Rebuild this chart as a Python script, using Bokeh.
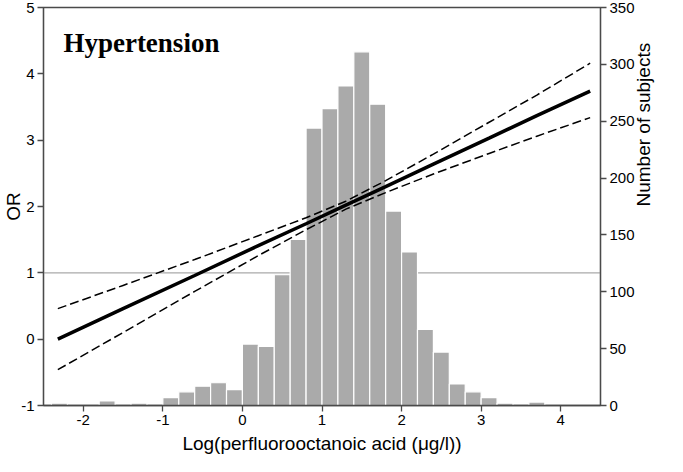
import math
from bokeh.plotting import figure
from bokeh.models import Range1d, LinearAxis, FixedTicker, Span, Label, ColumnDataSource
from bokeh.embed import file_html
from bokeh.resources import INLINE

# ---- data ----
bin_lo = [-2.4, -2.2, -2.0, -1.8, -1.6, -1.4, -1.2, -1.0, -0.8, -0.6, -0.4, -0.2,
          0.0, 0.2, 0.4, 0.6, 0.8, 1.0, 1.2, 1.4, 1.6, 1.8, 2.0, 2.2, 2.4, 2.6,
          2.8, 3.0, 3.2, 3.4, 3.6]
bin_hi = [-2.2, -2.0, -1.8, -1.6, -1.4, -1.2, -1.0, -0.8, -0.6, -0.4, -0.2, 0.0,
          0.2, 0.4, 0.6, 0.8, 1.0, 1.2, 1.4, 1.6, 1.8, 2.0, 2.2, 2.4, 2.6, 2.8,
          3.0, 3.2, 3.4, 3.6, 3.8]
counts = [2, 0, 0, 4, 0, 2, 0, 7, 12, 17, 20, 14, 54, 52, 115, 146, 244, 261,
          281, 311, 265, 171, 135, 67, 47, 19, 12, 7, 2, 0, 3]

x_fit = [-2.32, -1.5, -0.6, 0.2, 0.8, 1.3, 1.8, 2.4, 3.1, 3.7, 4.37]
or_est = [0.00, 0.46, 0.96, 1.41, 1.74, 2.02, 2.30, 2.64, 3.03, 3.37, 3.74]
or_hi = [0.46, 0.81, 1.20, 1.56, 1.83, 2.08, 2.39, 2.79, 3.27, 3.68, 4.16]
or_lo = [-0.46, 0.10, 0.72, 1.26, 1.65, 1.96, 2.21, 2.49, 2.80, 3.06, 3.34]

x_ticks = [-2, -1, 0, 1, 2, 3, 4]
or_ticks = [-1, 0, 1, 2, 3, 4, 5]
n_ticks = [0, 50, 100, 150, 200, 250, 300, 350]
ref_or = 1

title_text = "Hypertension"
x_label = "Log(perfluorooctanoic acid (\u03bcg/l))"
y_label = "OR"
y2_label = "Number of subjects"

# ---- figure ----
FONT = "Liberation Sans"
AX = "#4a4a4a"

p = figure(width=667, height=456, output_backend="svg", toolbar_location=None,
           x_range=Range1d(-2.5, 4.5), y_range=Range1d(-1, 5),
           min_border_top=7, min_border_right=2, min_border_left=0,
           min_border_bottom=0)
p.extra_y_ranges = {"n": Range1d(0, 350)}
p.grid.visible = False
p.outline_line_color = AX
p.outline_line_width = 1.3
p.background_fill_color = "white"
p.border_fill_color = "white"

keep = [i for i, c in enumerate(counts) if c > 0]
src = ColumnDataSource(dict(left=[bin_lo[i] for i in keep],
                            right=[bin_hi[i] for i in keep],
                            top=[counts[i] for i in keep],
                            bottom=[0] * len(keep)))
p.quad(left="left", right="right", top="top", bottom="bottom", source=src,
       y_range_name="n", fill_color="#aaaaaa", line_color="white", line_width=1.2)

p.add_layout(Span(location=ref_or, dimension="width", line_color="#aaaaaa",
                  line_width=1.4, level="underlay"))

p.line(x_fit, or_hi, line_color="black", line_width=1.5, line_dash="9 4")
p.line(x_fit, or_lo, line_color="black", line_width=1.5, line_dash="9 4")
p.line(x_fit, or_est, line_color="black", line_width=3.5)

p.add_layout(Label(x=-2.25, y=4.46, text=title_text, text_font="Liberation Serif",
                   text_font_style="bold", text_font_size="27px",
                   text_baseline="alphabetic", text_color="black"))


def style(ax, ticks, label, lab_standoff):
    ax.ticker = FixedTicker(ticks=ticks)
    ax.major_label_overrides = {t: str(t) for t in ticks if t < 0}
    if label:
        ax.axis_label = label
    ax.axis_label_text_font = FONT
    ax.axis_label_text_font_style = "normal"
    ax.axis_label_text_font_size = "19px"
    ax.axis_label_text_color = "black"
    ax.axis_label_standoff = lab_standoff
    ax.major_label_text_font = FONT
    ax.major_label_text_font_size = "15px"
    ax.major_label_text_color = "black"
    ax.major_label_standoff = 3
    ax.axis_line_color = AX
    ax.axis_line_width = 1.3
    ax.major_tick_line_color = AX
    ax.major_tick_line_width = 1.3
    ax.major_tick_out = 6
    ax.major_tick_in = 0
    ax.minor_tick_line_color = None


style(p.xaxis[0], x_ticks, x_label, 5)
style(p.yaxis[0], or_ticks, y_label, -6)

# right axis with the subject counts
y2 = LinearAxis(y_range_name="n")
style(y2, n_ticks, None, 4)
p.add_layout(y2, "right")

# outer right axis that only carries the title, reading bottom to top;
# its bounds set where the title sits along the axis
y2_title = LinearAxis(y_range_name="n", bounds=(0, 60))
style(y2_title, [], y2_label, 6)
y2_title.axis_line_color = None
y2_title.major_tick_line_color = None
y2_title.major_tick_out = 0
y2_title.major_label_standoff = 0
y2_title.axis_label_orientation = math.pi / 2
p.add_layout(y2_title, "right")

open("out.html", "w").write(file_html(p, INLINE))
